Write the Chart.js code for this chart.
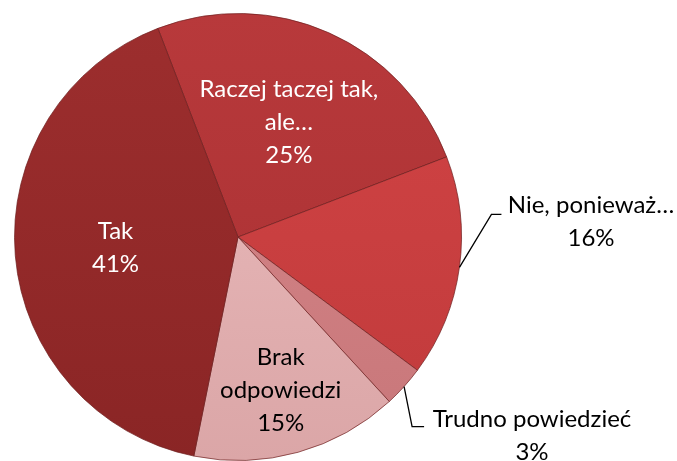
<!DOCTYPE html>
<html>
<head>
<meta charset="utf-8">
<script src="https://cdn.jsdelivr.net/npm/chart.js@4/dist/chart.umd.min.js"></script>
<style>
html,body{margin:0;padding:0;background:#fff;}
canvas{display:block;}
</style>
</head>
<body>
<canvas id="c" width="677" height="461"></canvas>
<script>
const categories = ["Raczej taczej tak, ale…", "Nie, ponieważ…", "Trudno powiedzieć", "Brak odpowiedzi", "Tak"];
const labelLines = [["Raczej taczej tak,", "ale…"], ["Nie, ponieważ…"], ["Trudno powiedzieć"], ["Brak", "odpowiedzi"], ["Tak"]];
const values = [25, 16, 3, 15, 41];
const sliceTop = ["#B8393B", "#D24445", "#D6898C", "#EBBDBE", "#9D2E2E"];
const sliceBottom = ["#A83032", "#C03A3B", "#C87679", "#DBA6A7", "#8A2525"];
const textColors = ["#ffffff", "#000000", "#000000", "#000000", "#ffffff"];

const FONT = '24px Lato, "Liberation Sans", sans-serif';
const LINE_H = 33;

const placement = [
  {inside: true, r: 0.56},
  {inside: false, elbow: [32, -53], tick: 10, text: [591, 205]},
  {inside: false, elbow: [8, 40], tick: 12, text: [532, 419]},
  {inside: true, r: 0.71},
  {inside: true, r: 0.55}
];

const labelPlugin = {
  id: 'sliceLabels',
  afterDatasetsDraw(chart) {
    const ctx = chart.ctx;
    const meta = chart.getDatasetMeta(0);
    const total = values.reduce((a, b) => a + b, 0);
    ctx.save();
    ctx.font = FONT;
    ctx.textAlign = 'center';
    ctx.textBaseline = 'middle';
    meta.data.forEach((arc, i) => {
      const p = arc.getProps(['x', 'y', 'startAngle', 'endAngle', 'outerRadius'], true);
      const mid = (p.startAngle + p.endAngle) / 2;
      const pct = Math.round(values[i] / total * 100) + '%';
      const lines = labelLines[i].concat([pct]);
      const pl = placement[i];
      if (pl.inside) {
        const cx = p.x + Math.cos(mid) * p.outerRadius * pl.r;
        const cy = p.y + Math.sin(mid) * p.outerRadius * pl.r;
        ctx.fillStyle = textColors[i];
        const y0 = cy - (lines.length - 1) * LINE_H / 2;
        lines.forEach((t, k) => ctx.fillText(t, cx, y0 + k * LINE_H));
      } else {
        const ex = p.x + Math.cos(mid) * p.outerRadius;
        const ey = p.y + Math.sin(mid) * p.outerRadius;
        const bx = ex + pl.elbow[0];
        const by = ey + pl.elbow[1];
        ctx.strokeStyle = '#000';
        ctx.lineWidth = 1.3;
        ctx.beginPath();
        ctx.moveTo(ex, ey);
        ctx.lineTo(bx, by);
        ctx.lineTo(bx + pl.tick, by);
        ctx.stroke();
        ctx.fillStyle = textColors[i];
        lines.forEach((t, k) => ctx.fillText(t, pl.text[0], pl.text[1] + k * LINE_H));
      }
    });
    ctx.restore();
  }
};

function sliceFill(context) {
  const chart = context.chart;
  const area = chart.chartArea;
  const i = context.dataIndex;
  if (!area) return sliceTop[i];
  const g = chart.ctx.createLinearGradient(0, area.top, 0, area.bottom);
  g.addColorStop(0, sliceTop[i]);
  g.addColorStop(1, sliceBottom[i]);
  return g;
}

new Chart(document.getElementById('c'), {
  type: 'pie',
  data: {
    labels: categories,
    datasets: [{
      data: values,
      backgroundColor: sliceFill,
      borderColor: 'rgba(110,30,30,0.7)',
      borderWidth: 1
    }]
  },
  options: {
    responsive: false,
    animation: false,
    rotation: -21,
    layout: {padding: {left: 14, top: 13, right: 215, bottom: 0}},
    plugins: {
      legend: {display: false},
      tooltip: {enabled: false}
    }
  },
  plugins: [labelPlugin]
});
</script>
</body>
</html>
